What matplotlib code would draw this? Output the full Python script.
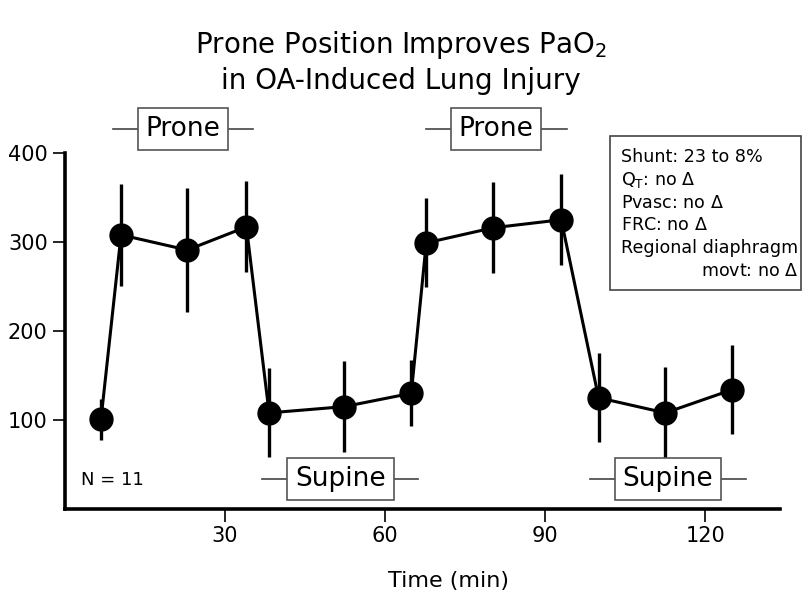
import matplotlib
matplotlib.use("Agg")
import matplotlib.pyplot as plt
from matplotlib.patches import Rectangle

plt.rcParams['font.family'] = ['DejaVu Sans']
plt.rcParams['mathtext.fontset'] = 'dejavusans'

time_min = [6.75, 10.5, 22.9, 34.0, 38.25, 52.3, 64.9, 67.7, 80.25, 93.0, 100.0, 112.5, 125.0]
pao2 = [101, 308, 291, 317, 108, 115, 130, 299, 316, 325, 125, 108, 134]
pao2_err = [23, 57, 70, 51, 50, 51, 37, 50, 51, 51, 50, 52, 50]

x_ticks = [30, 60, 90, 120]
y_ticks = [100, 200, 300, 400]

title = "Prone Position Improves PaO$_2$\nin OA-Induced Lung Injury"
info_lines = ["Shunt: 23 to 8%", "Q$_\\mathrm{T}$: no $\\Delta$", "Pvasc: no $\\Delta$",
              "FRC: no $\\Delta$", "Regional diaphragm"]
info_last = "movt: no $\\Delta$"

fig = plt.figure(figsize=(8.02, 5.92), dpi=100)
ax = fig.add_axes([65/802, 1-509/592, (780-65)/802, (509-153)/592])

ax.errorbar(time_min, pao2, yerr=pao2_err, fmt='-o', color='black', lw=2.2,
            elinewidth=2.4, capsize=0, markersize=16.5, zorder=3, clip_on=False)

ax.set_xlim(0, 134)
ax.set_ylim(0, 400)
ax.set_xticks(x_ticks)
ax.set_yticks(y_ticks)
ax.tick_params(labelsize=15, width=1.2, length=9, direction='out')
ax.spines['top'].set_visible(False)
ax.spines['right'].set_visible(False)
ax.spines['left'].set_linewidth(2.6)
ax.spines['bottom'].set_linewidth(2.6)
ax.set_xlabel("Time (min)", fontsize=16, labelpad=10)
ax.xaxis.set_label_coords((449-65)/(780-65), -0.175)

# position labels
def pos_label(text, xc, x0, x1, y):
    ax.plot([x0, x1], [y, y], color='#444444', lw=1.2, clip_on=False, zorder=4)
    ax.text(xc, y, text, fontsize=19, ha='center', va='center', zorder=5,
            bbox=dict(boxstyle='square,pad=0.3', fc='white', ec='#555555', lw=1.2),
            clip_on=False)

pos_label("Prone", 22.1, 9.0, 35.25, 427)
pos_label("Prone", 80.8, 67.7, 94.0, 427)
pos_label("Supine", 51.6, 36.9, 66.2, 34)
pos_label("Supine", 113.0, 98.4, 127.7, 34)

ax.text(3, 33, "N = 11", fontsize=13, ha='left', va='center')

fig.text(0.5, 1-62/592, title, fontsize=20, ha='center', va='center', linespacing=1.3)

# info box
fig.add_artist(Rectangle((610/802, 1-290/592), (801-610)/802, (290-136)/592,
                         transform=fig.transFigure, fill=False, ec='#444444', lw=1.2))
for i, line in enumerate(info_lines):
    fig.text(621/802, 1-(157+22.8*i)/592, line, fontsize=12.6, ha='left', va='center')
fig.text(799/802, 1-(157+22.8*5)/592, info_last, fontsize=12.6, ha='right', va='center')

fig.savefig("out.png", dpi=100)
